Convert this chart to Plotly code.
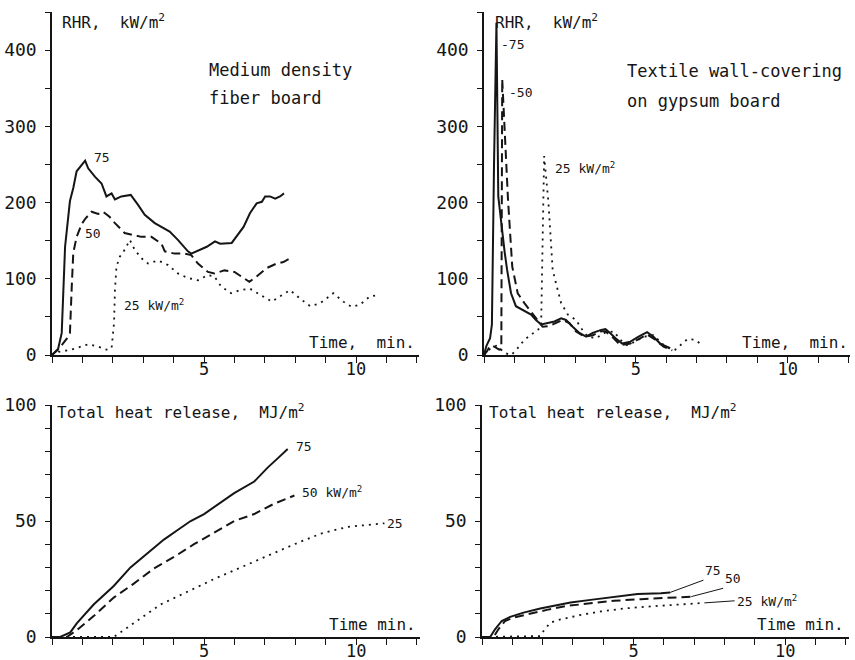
import plotly.graph_objects as go

# ---------------- data ----------------
# Medium density fiber board, rate of heat release (kW/m2) vs time (min)
mdf_t75 = [0, 0.2, 0.32, 0.43, 0.59, 0.7, 0.81, 0.98, 1.09, 1.19, 1.41, 1.63, 1.79, 1.96, 2.07, 2.28, 2.59, 2.83, 3.05,
           3.38, 3.6, 3.87, 4.14, 4.47, 4.58, 4.9, 5.09, 5.36, 5.53, 5.91, 6.07, 6.3, 6.51, 6.73, 6.9, 7.01, 7.17,
           7.34, 7.5, 7.63]
mdf_rhr75 = [0, 8, 29, 142, 202, 219, 241, 250, 255, 245, 234, 225, 208, 212, 204, 208, 210, 197, 184,
             173, 168, 162, 151, 136, 133, 138, 142, 149, 146, 147, 155, 168, 186, 199, 201, 208, 208,
             205, 208, 212]
mdf_t50 = [0, 0.2, 0.48, 0.59, 0.65, 0.7, 0.81, 0.98, 1.1, 1.3, 1.52, 1.68, 1.9, 2.07, 2.39, 2.72, 2.94, 3.27, 3.6,
           3.71, 4.03, 4.36, 4.58, 4.8, 5.13, 5.34, 5.67, 6.0, 6.29, 6.49, 6.73, 7.06, 7.39, 7.61, 7.88]
mdf_rhr50 = [0, 7, 21, 29, 90, 134, 155, 172, 179, 188, 185, 188, 181, 173, 160, 157, 155, 155, 146,
             136, 133, 133, 131, 120, 109, 107, 111, 109, 101, 96, 103, 114, 120, 122, 128]
mdf_t25 = [0, 0.21, 0.64, 1.0, 1.19, 1.52, 1.79, 1.96, 2.04, 2.07, 2.12, 2.23, 2.39, 2.56, 2.72, 2.94, 3.16, 3.49,
           3.82, 4.14, 4.47, 4.8, 5.13, 5.34, 5.56, 5.89, 6.18, 6.51, 6.84, 7.23, 7.5, 7.83, 8.16, 8.49, 8.82,
           9.25, 9.58, 9.86, 10.13, 10.46, 10.79]
mdf_rhr25 = [0, 4, 7, 12, 14, 11, 7, 9, 42, 85, 116, 129, 138, 151, 138, 127, 120, 124,
             118, 107, 101, 98, 105, 103, 90, 81, 85, 87, 79, 70, 77, 85, 74, 64, 68,
             81, 70, 63, 66, 77, 79]

# Textile wall-covering on gypsum board, RHR
tex_t75 = [0, 0.08, 0.2, 0.26, 0.33, 0.41, 0.47, 0.52, 0.6, 0.68, 0.76, 0.89, 1.05, 1.22, 1.38, 1.55, 1.71, 1.88,
           2.1, 2.32, 2.54, 2.7, 2.92, 3.14, 3.36, 3.58, 3.86, 4.0, 4.16, 4.33, 4.55, 4.82, 5.09, 5.37, 5.58,
           5.8, 6.02, 6.13]
tex_rhr75 = [0, 12, 22, 40, 250, 436, 208, 190, 160, 135, 112, 81, 64, 60, 57, 53, 46, 40,
             42, 44, 48, 46, 37, 29, 24, 29, 33, 34, 28.5, 22, 15, 17.5, 24, 30, 24,
             15, 11, 9]
tex_t50 = [0, 0.1, 0.2, 0.34, 0.5, 0.57, 0.6, 0.69, 0.79, 0.93, 1.11, 1.33, 1.55, 1.77, 1.93, 2.15, 2.37, 2.59,
           2.81, 3.03, 3.31, 3.58, 3.86, 4.0, 4.22, 4.49, 4.82, 5.15, 5.37, 5.64, 5.91, 6.13, 6.2]
tex_rhr50 = [0, 5, 12, 11, 7, 8, 362, 292, 204, 116, 81, 68, 57, 46, 37, 38, 42, 46,
             42, 31, 24, 26, 31, 31, 24, 13, 15, 22, 27, 20, 11, 7, 6]
tex_t25 = [0, 0.2, 0.4, 0.56, 0.73, 0.9, 1.11, 1.33, 1.55, 1.77, 1.88, 1.93, 1.98, 2.12, 2.26, 2.37, 2.54, 2.76,
           3.03, 3.2, 3.42, 3.69, 3.97, 4.27, 4.49, 4.71, 4.98, 5.26, 5.58, 5.86, 6.08, 6.3, 6.46, 6.7, 6.95, 7.22]
tex_rhr25 = [0, 8, 12, 7, 2, 0, 9, 20, 26, 33, 37, 150, 261, 201, 112, 94, 68, 53,
             46, 35, 24, 22, 29, 31, 20, 13, 17.5, 24, 26, 15, 9, 7, 13, 21, 20, 12]

# Total heat release (MJ/m2)
mdf_q_t75 = [0, 0.27, 0.6, 0.82, 1.37, 2.03, 2.58, 3.13, 3.68, 4.12, 4.56, 5.0, 5.55, 5.99, 6.65, 7.09, 7.42, 7.75]
mdf_q75 = [0, 0, 2, 6, 14, 22, 30, 36, 42, 46, 50, 53, 58, 62, 67, 73, 77, 81]
mdf_q_t50 = [0, 0.49, 0.82, 1.37, 2.03, 2.69, 3.35, 4.01, 4.67, 5.33, 5.99, 6.65, 7.31, 7.97]
mdf_q50 = [0, 0, 3, 9, 17, 23, 29.5, 34.5, 40, 45, 50, 53, 57.5, 61]
mdf_q_t25 = [0, 2.03, 2.36, 2.91, 3.57, 4.45, 5.33, 6.21, 7.09, 7.97, 8.85, 9.73, 10.93]
mdf_q25 = [0, 0, 3, 8, 14, 19.5, 25, 30, 35, 40, 44.6, 47.5, 49]

tex_q_t75 = [0, 0.27, 0.43, 0.65, 0.93, 1.37, 1.92, 2.48, 2.92, 3.58, 4.35, 5.13, 5.9, 6.2]
tex_q75 = [0, 0, 3.3, 6.9, 8.7, 10.5, 12.3, 13.7, 14.9, 16, 17.3, 18.5, 18.9, 19.2]
tex_q_t50 = [0, 0.38, 0.54, 0.76, 1.04, 1.59, 2.14, 2.8, 3.58, 4.35, 5.24, 6.12, 6.56, 6.9]
tex_q50 = [0, 0, 3.3, 6.9, 8.4, 10.1, 11.7, 13.4, 14.6, 15.6, 16.3, 17, 17.3, 17.4]
tex_q_t25 = [0, 1.92, 2.03, 2.25, 2.59, 3.25, 3.91, 4.69, 5.46, 6.12, 6.8, 7.33]
tex_q25 = [0, 0.4, 2.6, 6.2, 7.6, 9.5, 11, 12.3, 13.1, 13.7, 14.2, 14.7]

rhr_ticks = [0, 100, 200, 300, 400]
q_ticks = [0, 50, 100]
time_ticks = [5, 10]

# ---------------- figure ----------------
W, H = 855, 660
FONT = "DejaVu Sans Mono"
INK = "#151515"


def dx(a, b):
    return [a / W, b / W]


def dy(top, bottom):
    return [1 - bottom / H, 1 - top / H]


STY = {
    "75": dict(color=INK, width=2.0, dash="solid"),
    "50": dict(color=INK, width=2.0, dash="9px,5px"),
    "25": dict(color=INK, width=1.8, dash="2px,5px"),
}

fig = go.Figure()


def add(xs, ys, key, ax):
    fig.add_trace(go.Scatter(x=xs, y=ys, mode="lines", line=STY[key],
                             xaxis="x" + ax, yaxis="y" + ax, showlegend=False,
                             hoverinfo="skip"))


add(mdf_t75, mdf_rhr75, "75", "")
add(mdf_t50, mdf_rhr50, "50", "")
add(mdf_t25, mdf_rhr25, "25", "")
add(tex_t75, tex_rhr75, "75", "2")
add(tex_t50, tex_rhr50, "50", "2")
add(tex_t25, tex_rhr25, "25", "2")
add(mdf_q_t75, mdf_q75, "75", "3")
add(mdf_q_t50, mdf_q50, "50", "3")
add(mdf_q_t25, mdf_q25, "25", "3")
add(tex_q_t75, tex_q75, "75", "4")
add(tex_q_t50, tex_q50, "50", "4")
add(tex_q_t25, tex_q25, "25", "4")


def xax(domain, anchor, rng):
    return dict(domain=domain, anchor=anchor, range=rng, showgrid=False, zeroline=False,
                showline=True, linecolor=INK, linewidth=1.5,
                tickmode="array", tickvals=time_ticks, ticktext=[str(v) for v in time_ticks],
                ticks="outside", ticklen=6, tickwidth=1.3, tickcolor=INK,
                minor=dict(dtick=1, tick0=0, ticks="outside", ticklen=6, tickwidth=1.3,
                           tickcolor=INK, showgrid=False),
                ticklabelstandoff=-8,
                tickfont=dict(family=FONT, size=17, color=INK), fixedrange=True)


def yax(domain, anchor, rng, vals, mdt):
    return dict(domain=domain, anchor=anchor, range=rng, showgrid=False, zeroline=False,
                showline=True, linecolor=INK, linewidth=1.5,
                tickmode="array", tickvals=vals, ticktext=[str(v) for v in vals],
                ticks="outside", ticklen=5, tickwidth=1.3, tickcolor=INK,
                minor=dict(dtick=mdt, tick0=0, ticks="outside", ticklen=5, tickwidth=1.3,
                           tickcolor=INK, showgrid=False),
                ticklabelstandoff=5,
                tickfont=dict(family=FONT, size=18, color=INK), fixedrange=True)


fig.update_layout(
    width=W, height=H, margin=dict(l=0, r=0, t=0, b=0, autoexpand=False),
    paper_bgcolor="white", plot_bgcolor="white",
    xaxis=xax(dx(52, 419), "y", [0, 12.07]),
    yaxis=yax(dy(12, 355), "x", [0, 450], rhr_ticks, 50),
    xaxis2=xax(dx(484, 850), "y2", [0, 12.05]),
    yaxis2=yax(dy(12, 355), "x2", [0, 450], rhr_ticks, 50),
    xaxis3=xax(dx(52, 420), "y3", [0, 12.1]),
    yaxis3=yax(dy(405, 637), "x3", [0, 100], q_ticks, 10),
    xaxis4=xax(dx(482, 849), "y4", [0, 12.1]),
    yaxis4=yax(dy(405, 637), "x4", [0, 100], q_ticks, 10),
)

ann = []


def txt(ax, x, y, s, size=16, xanchor="left", yanchor="middle"):
    ann.append(dict(xref="x" + ax, yref="y" + ax, x=x, y=y, text=s, showarrow=False,
                    xanchor=xanchor, yanchor=yanchor,
                    font=dict(family=FONT, size=size, color=INK)))


NB = "\u00a0"
rhr_title = "RHR," + NB + NB + "kW/m<sup>2</sup>"
time_title = "Time," + NB + NB + "min."
q_title = "Total" + NB + "heat" + NB + "release," + NB + NB + "MJ/m<sup>2</sup>"
q_time = "Time" + NB + "min."

# top-left
txt("", 0.26, 437, rhr_title)
txt("", 12.0, 17, time_title, xanchor="right")
txt("", 5.1, 374, "Medium" + NB + "density", size=17)
txt("", 5.1, 337, "fiber" + NB + "board", size=17)
txt("", 1.32, 259, "75", size=13)
txt("", 1.02, 160, "50", size=13)
txt("", 2.3, 66, "25" + NB + "kW/m<sup>2</sup>", size=13)

# top-right
txt("2", 0.29, 437, rhr_title)
txt("2", 12.05, 16, time_title, xanchor="right")
txt("2", 4.63, 373, "Textile" + NB + "wall-covering", size=17)
txt("2", 4.63, 333, "on" + NB + "gypsum" + NB + "board", size=17)
txt("2", 0.5, 408, "-75", size=13)
txt("2", 0.76, 344, "-50", size=13)
txt("2", 2.28, 245, "25" + NB + "kW/m<sup>2</sup>", size=13)

# bottom-left
txt("3", 0.1, 97, q_title)
txt("3", 12.05, 5.4, q_time, xanchor="right")
txt("3", 7.95, 82, "75", size=13)
txt("3", 8.16, 62.5, "50" + NB + "kW/m<sup>2</sup>", size=13)
txt("3", 10.95, 49, "25", size=13)

# bottom-right
txt("4", 0.15, 97, q_title)
txt("4", 12.0, 5.2, q_time, xanchor="right")


def lead(xe, ye, xt, yt, s, yanchor):
    ann.append(dict(xref="x4", yref="y4", axref="x4", ayref="y4",
                    x=xe, y=ye, ax=xt, ay=yt, text=s, showarrow=True,
                    arrowhead=0, arrowwidth=1, arrowcolor=INK,
                    xanchor="left", yanchor=yanchor,
                    font=dict(family=FONT, size=13, color=INK)))


lead(tex_q_t75[-1], tex_q75[-1], 7.3, 24.5, "75", "bottom")
lead(tex_q_t50[-1], tex_q50[-1], 7.95, 21.0, "50", "bottom")
lead(tex_q_t25[-1], tex_q25[-1], 8.33, 15.6, "25" + NB + "kW/m<sup>2</sup>", "middle")

fig.update_layout(annotations=ann)
fig.write_html("out.html", config={"displayModeBar": False},
               post_script="document.body.style.margin='0';document.body.style.overflow='hidden';")
